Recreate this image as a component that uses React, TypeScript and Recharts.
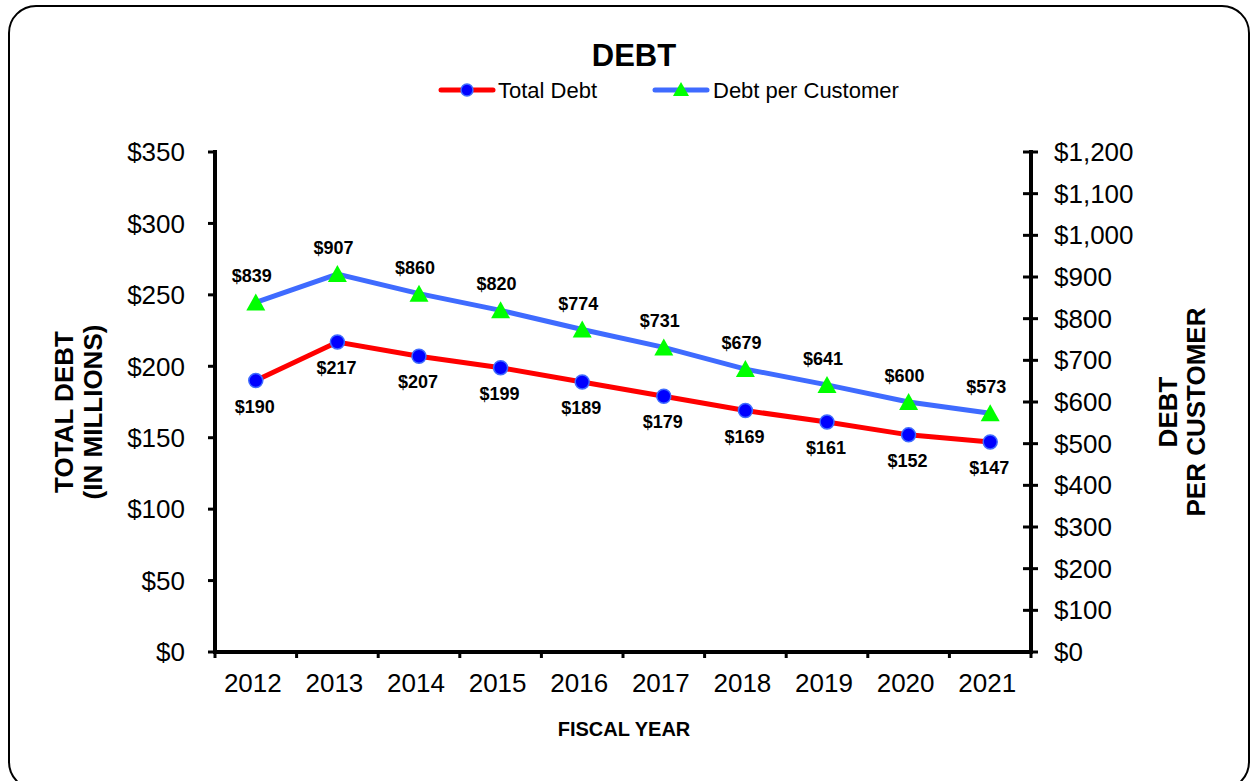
import { LineChart, Line, XAxis, YAxis, LabelList } from "recharts";

const years = ["2012", "2013", "2014", "2015", "2016", "2017", "2018", "2019", "2020", "2021"];
const totalDebt = [190, 217, 207, 199, 189, 179, 169, 161, 152, 147];
const debtPerCustomer = [839, 907, 860, 820, 774, 731, 679, 641, 600, 573];
const leftTicks = [0, 50, 100, 150, 200, 250, 300, 350];
const rightTicks = [0, 100, 200, 300, 400, 500, 600, 700, 800, 900, 1000, 1100, 1200];

const seriesNames = ["Total Debt", "Debt per Customer"];

const data = years.map((year, i) => ({
  year,
  total: totalDebt[i],
  perCustomer: debtPerCustomer[i],
}));

const FONT = "'Liberation Sans', Arial, sans-serif";
const RED = "#ff0000";
const BLUE = "#3f6bff";
const HALF_BAND = 40.8;

const money = (v: number) => "$" + v.toLocaleString("en-US");

function YearTick(props: any) {
  const { x, y, payload, index } = props;
  return (
    <g>
      <line x1={x - HALF_BAND} x2={x - HALF_BAND} y1={y} y2={y + 6} stroke="#000" strokeWidth={3} />
      {index === years.length - 1 && (
        <line x1={x + HALF_BAND} x2={x + HALF_BAND} y1={y} y2={y + 6} stroke="#000" strokeWidth={3} />
      )}
      <text x={x - 3} y={y + 40} textAnchor="middle" fontSize={26} fill="#000" fontFamily={FONT}>
        {payload.value}
      </text>
    </g>
  );
}

function RightTick(props: any) {
  const { x, y, payload } = props;
  const axisX = x - 23;
  return (
    <g>
      <line x1={axisX - 8} x2={axisX + 7} y1={y} y2={y} stroke="#000" strokeWidth={3} />
      <text x={x} y={y} dy={9} textAnchor="start" fontSize={26} fill="#000" fontFamily={FONT}>
        {money(payload.value)}
      </text>
    </g>
  );
}

function CircleDot(props: any) {
  const { cx, cy, index } = props;
  return <circle key={"c" + index} cx={cx} cy={cy} r={7} fill="#0000ff" stroke={BLUE} strokeWidth={1.5} />;
}

function TriangleDot(props: any) {
  const { cx, cy, index } = props;
  return (
    <polygon
      key={"t" + index}
      points={`${cx},${cy - 9} ${cx - 9.5},${cy + 8} ${cx + 9.5},${cy + 8}`}
      fill="#00ff00"
    />
  );
}

const belowLabel = (props: any) => (
  <text x={props.x - 1} y={props.y + 32} textAnchor="middle" fontSize={18} fontWeight="bold" fill="#000" fontFamily={FONT}>
    {money(props.value)}
  </text>
);

const aboveLabel = (props: any) => (
  <text x={props.x - 4} y={props.y - 20} textAnchor="middle" fontSize={18} fontWeight="bold" fill="#000" fontFamily={FONT}>
    {money(props.value)}
  </text>
);

export default function App() {
  return (
    <div
      style={{
        position: "absolute",
        left: 0,
        top: 0,
        width: 1256,
        height: 781,
        overflow: "hidden",
        background: "#fff",
        fontFamily: FONT,
      }}
    >
      <div
        style={{
          position: "absolute",
          left: 8,
          top: 5,
          width: 1242,
          height: 785,
          border: "2.5px solid #000",
          borderRadius: 28,
          boxSizing: "border-box",
        }}
      />

      <LineChart width={1256} height={781} data={data} margin={{ top: 152, right: 0, bottom: 0, left: 0 }}>
        <XAxis
          dataKey="year"
          height={129}
          padding={{ left: HALF_BAND, right: HALF_BAND }}
          tickLine={false}
          tickSize={0}
          tickMargin={0}
          tick={<YearTick />}
          interval={0}
          axisLine={{ stroke: "#000", strokeWidth: 4, strokeLinecap: "square" }}
        />
        <YAxis
          yAxisId="left"
          width={215}
          domain={[0, 350]}
          ticks={leftTicks}
          tickFormatter={money}
          tickSize={7}
          tickMargin={23}
          tick={{ fontSize: 26, fill: "#000", fontFamily: FONT }}
          tickLine={{ stroke: "#000", strokeWidth: 3 }}
          axisLine={{ stroke: "#000", strokeWidth: 4, strokeLinecap: "square" }}
        />
        <YAxis
          yAxisId="right"
          orientation="right"
          width={225}
          domain={[0, 1200]}
          ticks={rightTicks}
          tickSize={7}
          tickMargin={16}
          tickLine={false}
          tick={<RightTick />}
          axisLine={{ stroke: "#000", strokeWidth: 4, strokeLinecap: "square" }}
        />
        <Line
          yAxisId="right"
          dataKey="perCustomer"
          name={seriesNames[1]}
          stroke={BLUE}
          strokeWidth={5}
          dot={TriangleDot}
          activeDot={false}
          isAnimationActive={false}
        >
          <LabelList dataKey="perCustomer" content={aboveLabel} />
        </Line>
        <Line
          yAxisId="left"
          dataKey="total"
          name={seriesNames[0]}
          stroke={RED}
          strokeWidth={5}
          dot={CircleDot}
          activeDot={false}
          isAnimationActive={false}
        >
          <LabelList dataKey="total" content={belowLabel} />
        </Line>
      </LineChart>

      <svg width={1256} height={781} style={{ position: "absolute", left: 0, top: 0, pointerEvents: "none" }}>
        <text x={634} y={66} textAnchor="middle" fontSize={31} fontWeight="bold" fontFamily={FONT}>
          DEBT
        </text>

        <line x1={441} x2={493} y1={90} y2={90} stroke={RED} strokeWidth={5} strokeLinecap="round" />
        <circle cx={467} cy={90} r={6} fill="#0000ff" stroke={BLUE} strokeWidth={1.5} />
        <text x={498} y={98} fontSize={22} fontFamily={FONT}>
          {seriesNames[0]}
        </text>
        <line x1={655} x2={707} y1={90} y2={90} stroke={BLUE} strokeWidth={5} strokeLinecap="round" />
        <polygon points="681,82 673,96 689,96" fill="#00ff00" />
        <text x={713} y={98} fontSize={22} fontFamily={FONT}>
          {seriesNames[1]}
        </text>

        <g transform="translate(64,412) rotate(-90)">
          <text x={0} y={9} textAnchor="middle" fontSize={26} fontWeight="bold" fontFamily={FONT}>
            TOTAL DEBT
          </text>
        </g>
        <g transform="translate(93,412) rotate(-90)">
          <text x={0} y={9} textAnchor="middle" fontSize={26} fontWeight="bold" fontFamily={FONT}>
            (IN MILLIONS)
          </text>
        </g>
        <g transform="translate(1168,412) rotate(-90)">
          <text x={0} y={9} textAnchor="middle" fontSize={26} fontWeight="bold" fontFamily={FONT}>
            DEBT
          </text>
        </g>
        <g transform="translate(1196,412) rotate(-90)">
          <text x={0} y={9} textAnchor="middle" fontSize={26} fontWeight="bold" fontFamily={FONT}>
            PER CUSTOMER
          </text>
        </g>

        <text x={624} y={736} textAnchor="middle" fontSize={20} fontWeight="bold" fontFamily={FONT}>
          FISCAL YEAR
        </text>
      </svg>
    </div>
  );
}
